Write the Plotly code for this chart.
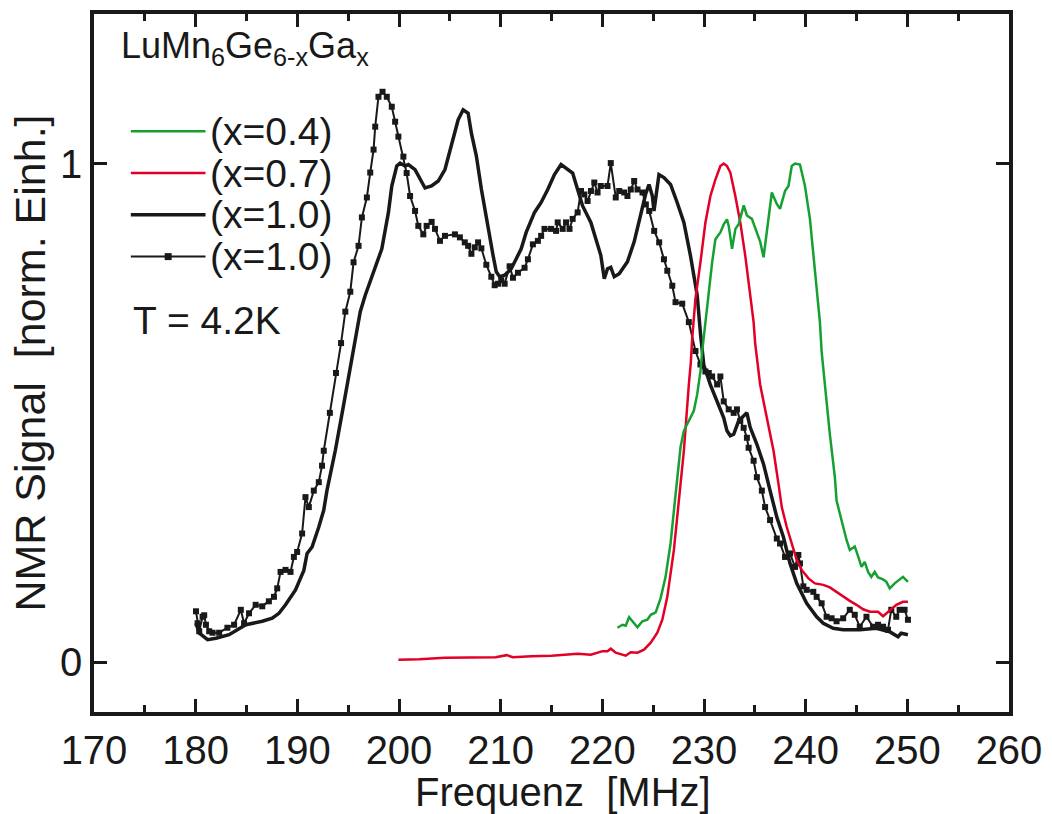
import plotly.graph_objects as go

# ---- data ----
f_green = [221.49, 221.98, 222.3, 222.63, 223.45, 223.94, 224.43, 224.76, 225.25, 225.73, 226.22, 226.71,
           227.04, 227.36, 227.69, 228.02, 228.51, 229.0, 229.33, 229.65, 229.82, 230.14, 230.47, 230.8,
           231.12, 231.61, 231.94, 232.26, 232.43, 232.76, 233.09, 233.42, 233.91, 234.22, 234.71, 235.2,
           235.53, 235.86, 236.18, 236.67, 237.16, 237.48, 237.97, 238.31, 238.63, 238.95, 239.44, 239.93,
           240.42, 240.91, 241.24, 241.4, 241.57, 241.89, 242.38, 242.87, 243.04, 243.36, 243.69, 244.02,
           244.34, 244.83, 245.16, 245.49, 245.81, 246.14, 246.46, 246.79, 247.12, 247.61, 247.94, 248.27,
           248.76, 249.24, 249.57, 250.06]
s_green = [0.069, 0.075, 0.073, 0.090, 0.070, 0.082, 0.085, 0.095, 0.100, 0.128, 0.171, 0.238,
           0.304, 0.371, 0.431, 0.464, 0.484, 0.504, 0.537, 0.583, 0.623, 0.682, 0.749, 0.802,
           0.848, 0.862, 0.878, 0.888, 0.875, 0.829, 0.869, 0.879, 0.916, 0.896, 0.889, 0.862,
           0.843, 0.812, 0.862, 0.942, 0.919, 0.909, 0.945, 0.955, 0.995, 1.0, 0.998, 0.955,
           0.889, 0.789, 0.709, 0.682, 0.623, 0.557, 0.457, 0.371, 0.324, 0.298, 0.271, 0.245,
           0.225, 0.232, 0.212, 0.191, 0.201, 0.181, 0.171, 0.181, 0.170, 0.166, 0.161, 0.148,
           0.158, 0.166, 0.171, 0.161]

f_red = [199.94, 202.0, 204.52, 207.0, 209.5, 210.6, 211.2, 213.0, 215.0, 217.57, 218.87, 220.02, 220.51,
         220.83, 221.32, 222.3, 222.79, 223.45, 224.1, 224.76, 225.41, 225.9, 226.39, 227.04, 227.53,
         228.02, 228.51, 228.7, 228.84, 229.16, 229.65, 230.14, 230.63, 231.12, 231.61, 231.94, 232.26,
         232.59, 233.08, 233.57, 234.06, 234.55, 234.88, 235.03, 235.52, 236.18, 236.84, 237.33, 237.65,
         238.14, 238.63, 239.12, 239.61, 240.27, 240.91, 241.73, 242.38, 243.04, 243.69, 244.34, 245.0,
         245.65, 246.31, 247.12, 247.61, 247.94, 248.43, 248.92, 249.57, 250.06]
s_red = [0.005, 0.006, 0.009, 0.009, 0.010, 0.014, 0.010, 0.012, 0.013, 0.017, 0.015, 0.022, 0.022,
         0.027, 0.019, 0.013, 0.020, 0.019, 0.025, 0.039, 0.059, 0.085, 0.131, 0.225, 0.324,
         0.424, 0.557, 0.600, 0.650, 0.729, 0.802, 0.882, 0.935, 0.968, 0.995, 1.0, 0.995,
         0.982, 0.935, 0.882, 0.815, 0.736, 0.682, 0.640, 0.557, 0.490, 0.424, 0.357, 0.311,
         0.271, 0.238, 0.205, 0.185, 0.168, 0.158, 0.155, 0.150, 0.141, 0.131, 0.123, 0.115,
         0.106, 0.101, 0.101, 0.092, 0.098, 0.108, 0.115, 0.121, 0.121]

f_solid = [180.03, 180.36, 181.17, 181.99, 183.29, 184.93, 186.55, 187.53, 188.19, 188.84, 189.82, 190.64,
           190.96, 191.45, 192.11, 192.6, 192.92, 193.41, 193.74, 194.5, 195.3, 195.8, 196.19, 196.68,
           197.66, 198.31, 198.96, 199.29, 199.78, 200.11, 200.6, 200.92, 201.58, 202.22, 202.56, 203.2,
           203.86, 204.52, 205.16, 205.82, 206.31, 206.8, 207.12, 207.61, 208.1, 208.76, 209.25, 209.57,
           209.9, 210.39, 211.04, 212.02, 212.51, 213.33, 213.98, 214.63, 215.29, 215.94, 216.59, 217.08,
           217.57, 218.06, 218.87, 219.53, 219.85, 220.19, 220.51, 220.83, 221.17, 221.66, 222.47, 223.13,
           223.77, 224.26, 224.59, 224.92, 225.08, 225.57, 226.06, 226.71, 227.36, 228.02, 228.67, 229.33,
           229.65, 229.98, 230.63, 231.28, 231.94, 232.26, 232.59, 232.92, 233.41, 234.22, 234.54, 235.2,
           235.86, 236.5, 237.16, 237.81, 238.46, 239.12, 240.1, 241.08, 241.73, 242.71, 243.69, 245.32,
           246.95, 248.26, 249.08, 249.4, 250.06]
s_solid = [0.078, 0.058, 0.045, 0.048, 0.055, 0.075, 0.082, 0.088, 0.098, 0.115, 0.145, 0.184,
           0.218, 0.231, 0.271, 0.305, 0.345, 0.390, 0.425, 0.510, 0.600, 0.660, 0.703, 0.736,
           0.789, 0.829, 0.902, 0.955, 0.995, 1.001, 0.995, 0.998, 0.988, 0.965, 0.951, 0.955,
           0.965, 0.988, 1.035, 1.088, 1.108, 1.101, 1.061, 1.015, 0.949, 0.869, 0.816, 0.783,
           0.773, 0.776, 0.789, 0.829, 0.862, 0.902, 0.922, 0.948, 0.978, 0.998, 0.988, 0.981,
           0.948, 0.915, 0.882, 0.836, 0.816, 0.769, 0.789, 0.792, 0.773, 0.779, 0.803, 0.843,
           0.896, 0.939, 0.958, 0.935, 0.905, 0.978, 0.972, 0.958, 0.922, 0.882, 0.815, 0.736,
           0.660, 0.596, 0.556, 0.523, 0.490, 0.464, 0.454, 0.457, 0.484, 0.500, 0.471, 0.437,
           0.397, 0.344, 0.291, 0.251, 0.198, 0.158, 0.118, 0.091, 0.078, 0.068, 0.065, 0.065,
           0.068, 0.061, 0.051, 0.058, 0.055]

f_sq = [180.03, 180.19, 180.35, 180.68, 180.84, 181.01, 181.33, 181.66, 182.31, 183.12, 183.78, 184.44,
        184.76, 185.25, 185.9, 186.55, 187.2, 187.7, 188.02, 188.35, 188.84, 189.33, 189.66, 189.98,
        190.47, 190.8, 191.13, 191.62, 192.11, 192.43, 192.6, 193.2, 193.8, 194.3, 194.72, 195.21,
        195.53, 196.02, 196.35, 196.84, 197.17, 197.5, 197.66, 197.98, 198.38, 198.8, 199.29, 199.62,
        199.94, 200.43, 200.75, 201.09, 201.58, 201.9, 202.39, 202.72, 203.21, 203.54, 204.03, 204.52,
        205.5, 205.99, 206.47, 206.8, 207.12, 207.45, 207.78, 208.1, 208.59, 209.08, 209.41, 209.74,
        210.06, 210.39, 210.88, 211.21, 211.7, 212.35, 212.68, 213.17, 213.66, 213.98, 214.31, 214.96,
        215.45, 215.61, 216.1, 216.43, 216.77, 217.08, 217.57, 217.9, 218.23, 218.55, 218.88, 219.21,
        219.53, 219.85, 220.51, 220.83, 221.32, 221.66, 222.15, 222.47, 222.8, 223.13, 223.46, 223.95,
        224.28, 224.61, 225.1, 225.59, 226.06, 226.39, 226.88, 227.2, 227.86, 228.51, 229.16, 229.65,
        230.14, 230.47, 230.8, 231.29, 231.61, 231.94, 232.43, 232.92, 233.24, 233.57, 233.9, 234.22,
        234.39, 234.88, 235.2, 235.69, 236.01, 236.5, 237.16, 237.48, 237.97, 238.46, 238.95, 239.28,
        239.44, 239.77, 240.1, 240.75, 241.08, 241.57, 242.06, 242.55, 243.04, 243.69, 244.34, 244.83,
        245.32, 245.98, 246.63, 247.12, 247.61, 248.1, 248.42, 248.91, 249.24, 249.73, 250.06]
s_sq = [0.102, 0.078, 0.062, 0.091, 0.094, 0.075, 0.062, 0.059, 0.059, 0.069, 0.075, 0.105,
        0.078, 0.098, 0.115, 0.112, 0.122, 0.131, 0.148, 0.181, 0.185, 0.181, 0.211, 0.221,
        0.258, 0.331, 0.311, 0.344, 0.361, 0.394, 0.424, 0.500, 0.580, 0.640, 0.703, 0.743,
        0.802, 0.835, 0.892, 0.932, 0.982, 1.028, 1.074, 1.134, 1.144, 1.134, 1.114, 1.084,
        1.054, 1.014, 0.981, 0.935, 0.905, 0.875, 0.858, 0.875, 0.883, 0.869, 0.845, 0.855,
        0.858, 0.852, 0.842, 0.835, 0.819, 0.832, 0.842, 0.830, 0.797, 0.773, 0.756, 0.759,
        0.766, 0.759, 0.794, 0.771, 0.781, 0.791, 0.808, 0.838, 0.845, 0.855, 0.869, 0.869,
        0.865, 0.882, 0.869, 0.882, 0.869, 0.889, 0.902, 0.945, 0.938, 0.925, 0.945, 0.962,
        0.942, 0.955, 0.955, 1.001, 0.932, 0.945, 0.942, 0.935, 0.948, 0.965, 0.948, 0.942,
        0.918, 0.905, 0.865, 0.842, 0.808, 0.785, 0.755, 0.722, 0.719, 0.682, 0.624, 0.597,
        0.583, 0.580, 0.573, 0.557, 0.573, 0.523, 0.507, 0.500, 0.507, 0.484, 0.470, 0.450,
        0.430, 0.404, 0.371, 0.344, 0.311, 0.285, 0.248, 0.238, 0.211, 0.218, 0.191, 0.215,
        0.198, 0.152, 0.145, 0.141, 0.131, 0.118, 0.091, 0.088, 0.082, 0.088, 0.105, 0.095,
        0.071, 0.091, 0.071, 0.075, 0.071, 0.065, 0.105, 0.091, 0.105, 0.105, 0.085]

legend_labels = ["(x=0.4)", "(x=0.7)", "(x=1.0)", "(x=1.0)"]
x_ticks = [170, 180, 190, 200, 210, 220, 230, 240, 250, 260]
x_minor = [175, 185, 195, 205, 215, 225, 235, 245, 255]
y_ticks = [0, 1]

GREEN = "rgb(22,160,50)"
RED = "rgb(226,0,38)"
BLACK = "rgb(25,25,25)"
FONT = "Liberation Sans, Arial, sans-serif"

fig = go.Figure()
fig.add_trace(go.Scatter(x=f_solid, y=s_solid, mode="lines", line=dict(color=BLACK, width=3.5)))
fig.add_trace(go.Scatter(x=f_sq, y=s_sq, mode="lines+markers", line=dict(color=BLACK, width=2),
                         marker=dict(symbol="square", size=6, color=BLACK)))
fig.add_trace(go.Scatter(x=f_red, y=s_red, mode="lines", line=dict(color=RED, width=2.5)))
fig.add_trace(go.Scatter(x=f_green, y=s_green, mode="lines", line=dict(color=GREEN, width=2.5)))

axis_common = dict(showline=True, linewidth=3.5, linecolor=BLACK, mirror="allticks",
                   ticks="inside", tickcolor=BLACK, tickwidth=2.5, showgrid=False, zeroline=False,
                   tickfont=dict(family=FONT, size=40, color=BLACK))
fig.update_xaxes(range=[170, 260], tickvals=x_ticks, ticklen=13,
                 minor=dict(tickvals=x_minor, ticklen=7, ticks="inside", tickcolor=BLACK, tickwidth=2.5),
                 **axis_common)
fig.update_yaxes(range=[-0.1, 1.3], tickvals=y_ticks, ticklen=13,
                 title=dict(text="NMR Signal  [norm. Einh.]", font=dict(family=FONT, size=43, color=BLACK), standoff=2),
                 **axis_common)

# legend / labels drawn in paper space
leg_colors = [GREEN, RED, BLACK, BLACK]
leg_widths = [2.5, 2.5, 3.5, 2]
leg_y = [128, 170, 212, 254]
W, H = 1052, 814
L, R, T, B = 94, 39, 10, 102
pw, ph = W - L - R, H - T - B
def px(xp):
    return (xp - L) / pw
def py(yp):
    return 1 - (yp - T) / ph
for lab, c, w, yy in zip(legend_labels, leg_colors, leg_widths, leg_y):
    fig.add_shape(type="line", xref="paper", yref="paper", x0=px(131), x1=px(206), y0=py(yy), y1=py(yy),
                  line=dict(color=c, width=w))
    fig.add_annotation(xref="paper", yref="paper", x=px(209), y=py(yy), text=lab, showarrow=False,
                       xanchor="left", yanchor="middle", font=dict(family=FONT, size=39, color=BLACK))
fig.add_shape(type="rect", xref="paper", yref="paper", x0=px(165), x1=px(172), y0=py(250.5), y1=py(257.5),
              fillcolor=BLACK, line=dict(width=0))
fig.add_annotation(xref="paper", yref="paper", x=px(119), y=py(44),
                   text="LuMn<sub>6</sub>Ge<sub>6-x</sub>Ga<sub>x</sub>", showarrow=False,
                   xanchor="left", yanchor="middle", font=dict(family=FONT, size=36, color=BLACK))
fig.add_annotation(xref="paper", yref="paper", x=px(131), y=py(318), text="T = 4.2K", showarrow=False,
                   xanchor="left", yanchor="middle", font=dict(family=FONT, size=39, color=BLACK))
fig.add_annotation(xref="paper", yref="paper", x=px(565), y=py(792), text="Frequenz  [MHz]", showarrow=False,
                   xanchor="center", yanchor="middle", font=dict(family=FONT, size=40, color=BLACK))

fig.update_layout(width=W, height=H, margin=dict(l=L, r=R, t=T, b=B), showlegend=False,
                  plot_bgcolor="white", paper_bgcolor="white")
fig.write_html("out.html")
